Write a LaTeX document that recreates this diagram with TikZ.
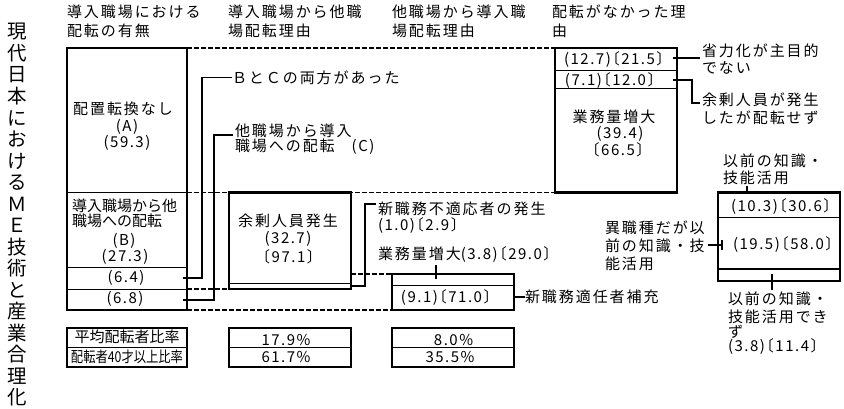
\documentclass[tikz,border=0pt]{standalone}
\usepackage{graphicx}
\usepackage{fontspec}
\setmainfont{Noto Sans CJK JP}[LetterSpace=13]
\newfontfamily\nmf{Noto Sans CJK JP}[CharacterWidth=AlternateHalf,LetterSpace=10]
\newfontfamily\plainf{Noto Sans CJK JP}
\begin{document}
\begin{tikzpicture}[x=1pt,y=-1pt,
  every node/.style={inner sep=0pt,outer sep=0pt},
  jt/.style={font=\fontsize{15}{18}\selectfont},
  nt/.style={font=\nmf\fontsize{15}{18}\selectfont},
  pt/.style={font=\plainf\fontsize{15}{18}\selectfont},
  ttl/.style={font=\plainf\fontsize{19.5}{22}\selectfont},
  boxn/.style={draw,line width=2.6pt,anchor=north west},
  sepl/.style={line width=1pt},
  con/.style={line width=1.3pt},
  dsh/.style={line width=1.2pt,dash pattern=on 4.5pt off 2.5pt},
]
\useasboundingbox (0,0) rectangle (844,409);

% vertical title
\foreach \c [count=\i from 0] in {現,代,日,本,に,お,け,る,Ｍ,Ｅ,技,術,と,産,業,合,理,化}
  \node[ttl] (t\i) at (17,{32+21.5*\i}) {\c};

% column headers
\node[jt,anchor=west] (h1a) at (67,12) {導入職場における};
\node[jt,anchor=west] (h1b) at (67,31) {配転の有無};
\node[jt,anchor=west] (h2a) at (228,12) {導入職場から他職};
\node[jt,anchor=west] (h2b) at (228,31) {場配転理由};
\node[jt,anchor=west] (h3a) at (392,12) {他職場から導入職};
\node[jt,anchor=west] (h3b) at (392,31) {場配転理由};
\node[jt,anchor=west] (h4a) at (552,12) {配転がなかった理};
\node[jt,anchor=west] (h4b) at (552,31) {由};

% boxes
\node[boxn,minimum width=120pt,minimum height=262pt] (L) at (67,48) {};
\node[boxn,minimum width=122pt,minimum height=96.5pt] (Y) at (229,192.5) {};
\node[boxn,minimum width=122pt,minimum height=36pt] (N) at (392,274) {};
\node[boxn,minimum width=122pt,minimum height=144.5pt] (R) at (555,48) {};
\node[boxn,minimum width=122pt,minimum height=88.5pt] (Q) at (718,192.5) {};
\node[boxn,minimum width=120pt,minimum height=39pt] (T1) at (67,328) {};
\node[boxn,minimum width=122pt,minimum height=39pt] (T2) at (229,328) {};
\node[boxn,minimum width=122pt,minimum height=39pt] (T3) at (392,328) {};

% separators
\draw[sepl] (67,192.5) -- (187,192.5);
\draw[sepl] (67,267) -- (187,267);
\draw[sepl] (67,289) -- (187,289);
\draw[sepl] (229,283) -- (351,283);
\draw[sepl] (392,285) -- (514,285);
\draw[sepl] (555,71) -- (677,71);
\draw[sepl] (555,89) -- (677,89);
\draw[sepl] (718,218) -- (840,218);
\draw[line width=1.6pt] (718,269) -- (840,269);
\draw[sepl] (67,347) -- (187,347);
\draw[sepl] (229,347) -- (351,347);
\draw[sepl] (392,347) -- (514,347);

% dashed guide lines
\coordinate (LAB) at (187,192.5);
\coordinate (L68) at (187,289);
\coordinate (Y74) at (351,274);
\draw[dsh] (L.north east) -- (R.north west);
\draw[dsh] (LAB) -- (R.south west);
\draw[dsh] (L68) -- (Y.south west);
\draw[dsh] (Y74) -- (N.north west);
\draw[dsh] (L.south east) -- (N.south west);

% left column texts
\node[jt] (a1) at (123,108.5) {配置転換なし};
\node[nt] (a2) at (127,126.5) {(A)};
\node[nt] (a3) at (127,142.5) {(59.3)};
\node[pt,anchor=west] (b1) at (72,206) {導入職場から他};
\node[pt,anchor=west] (b2) at (72,221) {職場への配転};
\node[nt] (b3) at (124,241) {(B)};
\node[nt] (b4) at (125,256.5) {(27.3)};
\node[nt] (b5) at (126,278) {(6.4)};
\node[nt] (b6) at (125,298.5) {(6.8)};

% B and C connectors
\node[jt,anchor=west] (bc) at (232,77.5) {ＢとＣの両方があった};
\node[jt,anchor=west] (c1) at (235,131) {他職場から導入};
\node[jt,anchor=west] (c2) at (235,147) {職場への配転　{\nmf(C)}};
\coordinate (k64) at (183,278);
\coordinate (k68) at (183,300);
\coordinate (kc) at (233,135);
\draw[con] (k64) -- (202,278) |- (bc.west);
\draw[con] (k68) -- (214,300) |- (kc);

% column 2 box texts
\node[jt] (y1) at (288,221) {余剰人員発生};
\node[nt] (y2) at (288,238.5) {(32.7)};
\node[nt] (y3) at (288.5,256.5) {〔97.1〕};

% column 3
\node[jt,anchor=west] (n1) at (378,208.5) {新職務不適応者の発生};
\node[nt,anchor=west] (n2) at (378,226) {(1.0)〔2.9〕};
\coordinate (ky) at (351,286);
\coordinate (kn) at (376,204);
\draw[con] (ky) -- (365,286) |- (kn);
\node[jt,anchor=west] (g) at (378,255) {業務量増大{\nmf(3.8)〔29.0〕}};
\coordinate (kg1) at (436,265);
\coordinate (kg2) at (436,279);
\draw[con] (kg1) -- (kg2);
\node[nt] (n3) at (446,297.5) {(9.1)〔71.0〕};
\node[jt,anchor=west] (n4) at (525,297) {新職務適任者補充};
\coordinate (kN) at (513,297);
\draw[con] (kN) -- (n4.west);

% column 4 box
\node[nt] (r1) at (614,60) {(12.7)〔21.5〕};
\node[nt] (r2) at (610,80.5) {(7.1)〔12.0〕};
\node[jt] (r3) at (614,116.5) {業務量増大};
\node[nt] (r4) at (620,134) {(39.4)};
\node[nt] (r5) at (618,150) {〔66.5〕};
\node[jt,anchor=west] (s1) at (702,51) {省力化が主目的};
\node[jt,anchor=west] (s2) at (702,67.5) {でない};
\node[jt,anchor=west] (u1) at (702,100) {余剰人員が発生};
\node[jt,anchor=west] (u2) at (702,117.5) {したが配転せず};
\coordinate (kr1) at (673,58);
\coordinate (ks) at (700,58);
\coordinate (kr2) at (673,80);
\coordinate (ku) at (700,103);
\draw[con] (kr1) -- (ks);
\draw[con] (kr2) -- (692,80) |- (ku);

% lower right box
\node[nt] (v1) at (781,206.5) {(10.3)〔30.6〕};
\node[nt] (v2) at (783,244.5) {(19.5)〔58.0〕};
\node[jt,anchor=west] (w1) at (723,161) {以前の知識・};
\node[jt,anchor=west] (w2) at (723,178) {技能活用};
\coordinate (kw1) at (747,186);
\coordinate (kw2) at (747,193);
\draw[con] (kw1) -- (kw2);
\node[jt,anchor=west] (x1) at (605,228) {異職種だが以};
\node[jt,anchor=west] (x2) at (605,245.5) {前の知識・技};
\node[jt,anchor=west] (x3) at (605,264) {能活用};
\coordinate (kx1) at (708,245);
\coordinate (kx2) at (722,245);
\draw[con] (kx1) -- (kx2);
\draw[con] (722,240) -- (722,250);
\coordinate (kz1) at (772,274);
\coordinate (kz2) at (772,290);
\draw[con] (kz1) -- (kz2);
\node[jt,anchor=west] (z1) at (728,299) {以前の知識・};
\node[jt,anchor=west] (z2) at (728,316.5) {技能活用でき};
\node[jt,anchor=west] (z3) at (728,332) {ず};
\node[nt,anchor=west] (z4) at (728,347) {(3.8)〔11.4〕};

% bottom tables
\node[pt] (p1) at (127,337) {平均配転者比率};
\node[pt] (p2) at (127,356.5) {\scalebox{0.82}[1]{配転者40才以上比率}};
\node[nt] (p3) at (286,340) {17.9\%};
\node[nt] (p4) at (286,357) {61.7\%};
\node[nt] (p5) at (453.5,340) {8.0\%};
\node[nt] (p6) at (450,357.5) {35.5\%};
\end{tikzpicture}
\end{document}
